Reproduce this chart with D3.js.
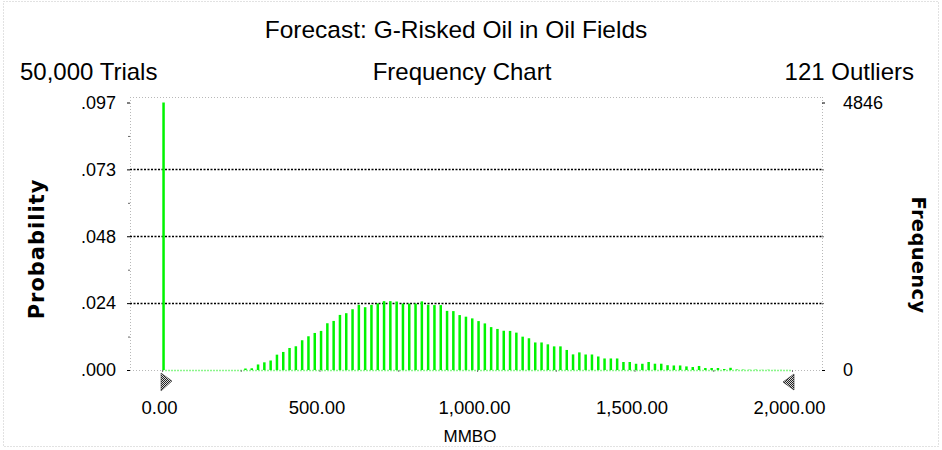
<!DOCTYPE html>
<html>
<head>
<meta charset="utf-8">
<script src="https://cdn.jsdelivr.net/npm/d3@7"></script>
<style>
  body { margin: 0; background: #fff; }
  svg { display: block; font-family: "Liberation Sans", Arial, sans-serif; }
</style>
</head>
<body>
<div id="chart"></div>
<script>
// forecast summary
const title = "Forecast: G-Risked Oil in Oil Fields";
const trialsLabel = "50,000 Trials";
const chartLabel = "Frequency Chart";
const outliersLabel = "121 Outliers";
const trials = 50000;

// bins of 20 MMBO from 0 to 2000, frequency counts
const binStarts = d3.range(0, 2000, 20);
const frequencies = [
  4846, 0, 0, 0, 0, 0, 0, 0, 0, 0,
  0, 0, 0, 27, 31, 100, 139, 172, 278, 327,
  399, 430, 539, 611, 671, 708, 847, 889, 998, 1029,
  1101, 1180, 1138, 1180, 1207, 1247, 1247, 1240, 1203, 1203,
  1203, 1243, 1183, 1176, 1176, 1071, 1067, 995, 966, 935,
  886, 844, 777, 744, 711, 708, 677, 604, 575, 499,
  499, 465, 428, 428, 363, 283, 319, 281, 281, 245,
  209, 209, 209, 145, 145, 113, 113, 145, 114, 114,
  87, 82, 82, 65, 54, 73, 36, 36, 36, 18,
  40, 9, 7, 5, 6, 3, 4, 2, 2, 1
];

// axes
const xTicks = [0, 500, 1000, 1500, 2000];
const xTickLabels = ["0.00", "500.00", "1,000.00", "1,500.00", "2,000.00"];
const xMinorTicks = [250, 750, 1250, 1750];
const maxFreq = 4846;
const probTicks = [0, 0.25, 0.5, 0.75, 1].map(f => f * maxFreq / trials);
const probTickLabels = [".000", ".024", ".048", ".073", ".097"];
const probMinorTicks = [0.125, 0.375, 0.625, 0.875].map(f => f * maxFreq / trials);
const freqTicks = [0, 4846];
const freqTickLabels = ["0", "4846"];
const xAxisTitle = "MMBO";
const leftAxisTitle = "Probability";
const rightAxisTitle = "Frequency";

const width = 942, height = 450;
const frame = {left: 130, right: 822, top: 97, bottom: 370};

const svg = d3.select("#chart").append("svg")
  .attr("width", width)
  .attr("height", height);

// outer dotted border
svg.append("rect")
  .attr("x", 3.5).attr("y", 1.5)
  .attr("width", 935).attr("height", 445)
  .attr("fill", "none")
  .attr("stroke", "#c4c4c4")
  .attr("stroke-dasharray", "1,2");

const x = d3.scaleLinear().domain([0, 2000]).range([162, 792]);
const yProb = d3.scaleLinear().domain([0, maxFreq / trials]).range([frame.bottom, 102.5]);
const yFreq = d3.scaleLinear().domain([0, maxFreq]).range([frame.bottom, 102.5]);

// headings
svg.append("text")
  .attr("x", 456).attr("y", 38)
  .attr("text-anchor", "middle")
  .style("font-size", "24.5px")
  .text(title);

const sub = svg.append("g").style("font-size", "24px");
sub.append("text").attr("x", 20).attr("y", 80).text(trialsLabel);
sub.append("text").attr("x", 462).attr("y", 80).attr("text-anchor", "middle").text(chartLabel);
sub.append("text").attr("x", 914).attr("y", 80).attr("text-anchor", "end").text(outliersLabel);

// plot frame (light dotted)
const frameLine = (x1, y1, x2, y2, color) => svg.append("line")
  .attr("x1", x1).attr("y1", y1).attr("x2", x2).attr("y2", y2)
  .attr("stroke", color)
  .attr("stroke-dasharray", "1,2");

frameLine(frame.left, frame.top + 0.5, frame.right, frame.top + 0.5, "#b8b8b8");
frameLine(frame.left + 0.5, frame.top, frame.left + 0.5, frame.bottom, "#b8b8b8");
frameLine(frame.right + 0.5, frame.top, frame.right + 0.5, frame.bottom, "#b8b8b8");
frameLine(frame.left, frame.bottom + 0.5, x(0), frame.bottom + 0.5, "#b8b8b8");
frameLine(x(2000), frame.bottom + 0.5, frame.right, frame.bottom + 0.5, "#b8b8b8");

// grid lines
svg.append("g")
  .selectAll("line")
  .data(probTicks.slice(1, 4))
  .join("line")
  .attr("x1", frame.left).attr("x2", frame.right)
  .attr("y1", d => Math.round(yProb(d)) + 0.5)
  .attr("y2", d => Math.round(yProb(d)) + 0.5)
  .attr("stroke", "#000")
  .attr("stroke-width", 1.4)
  .attr("stroke-dasharray", "2,1.5");

// zero baseline under the bins
svg.append("line")
  .attr("x1", x(0)).attr("x2", x(2000))
  .attr("y1", frame.bottom + 0.5).attr("y2", frame.bottom + 0.5)
  .attr("stroke", "#8cf58c")
  .attr("stroke-width", 1.5)
  .attr("stroke-dasharray", "2,1");

// bars
svg.append("g")
  .selectAll("rect")
  .data(binStarts)
  .join("rect")
  .attr("x", d => x(d) + 0.3)
  .attr("width", 2.5)
  .attr("y", (d, i) => yFreq(frequencies[i]))
  .attr("height", (d, i) => frame.bottom - yFreq(frequencies[i]))
  .attr("fill", "#00f400");

// left axis
const leftAxis = svg.append("g")
  .attr("transform", `translate(${frame.left},0)`)
  .call(d3.axisLeft(yProb)
    .tickValues(probTicks)
    .tickFormat((d, i) => probTickLabels[i])
    .tickSize(3)
    .tickPadding(11));
leftAxis.select(".domain").remove();
leftAxis.selectAll("text").style("font-size", "18px").style("font-family", "Liberation Sans, Arial, sans-serif").attr("fill", "#000");

const leftMinor = svg.append("g")
  .attr("transform", `translate(${frame.left},0)`)
  .call(d3.axisLeft(yProb).tickValues(probMinorTicks).tickFormat("").tickSize(2));
leftMinor.select(".domain").remove();
leftMinor.selectAll("line").attr("stroke", "#666");

// right axis
const rightAxis = svg.append("g")
  .attr("transform", `translate(${frame.right},0)`)
  .call(d3.axisRight(yFreq)
    .tickValues(freqTicks)
    .tickFormat((d, i) => freqTickLabels[i])
    .tickSize(3)
    .tickPadding(18));
rightAxis.select(".domain").remove();
rightAxis.selectAll("text").style("font-size", "18px").style("font-family", "Liberation Sans, Arial, sans-serif").attr("fill", "#000");

const rightMinor = svg.append("g")
  .attr("transform", `translate(${frame.right},0)`)
  .call(d3.axisRight(yFreq).tickValues([maxFreq / 4, maxFreq / 2, maxFreq * 3 / 4]).tickFormat("").tickSize(2));
rightMinor.select(".domain").remove();
rightMinor.selectAll("line").attr("stroke", "#666");

// bottom axis
const bottomAxis = svg.append("g")
  .attr("transform", `translate(0,${frame.bottom})`)
  .call(d3.axisBottom(x)
    .tickValues(xTicks)
    .tickFormat((d, i) => xTickLabels[i])
    .tickSize(2)
    .tickPadding(29));
bottomAxis.select(".domain").remove();
bottomAxis.selectAll("line").attr("stroke", "#777");
bottomAxis.selectAll("text")
  .style("font-size", "18.5px")
  .style("font-family", "Liberation Sans, Arial, sans-serif")
  .attr("fill", "#000")
  .attr("dx", -3);

const bottomMinor = svg.append("g")
  .attr("transform", `translate(0,${frame.bottom})`)
  .call(d3.axisBottom(x).tickValues(xMinorTicks).tickFormat("").tickSize(2));
bottomMinor.select(".domain").remove();
bottomMinor.selectAll("line").attr("stroke", "#777");

// axis titles
svg.append("text")
  .attr("x", 470).attr("y", 442)
  .attr("text-anchor", "middle")
  .style("font-size", "17px")
  .text(xAxisTitle);

svg.append("text")
  .attr("transform", "translate(44,249) rotate(-90)")
  .attr("text-anchor", "middle")
  .style("font-family", "DejaVu Sans, sans-serif")
  .style("font-weight", "bold")
  .style("font-size", "21px")
  .style("letter-spacing", "1px")
  .text(leftAxisTitle);

svg.append("text")
  .attr("transform", "translate(912,255) rotate(90)")
  .attr("text-anchor", "middle")
  .style("font-family", "DejaVu Sans, sans-serif")
  .style("font-weight", "bold")
  .style("font-size", "19.5px")
  .style("letter-spacing", "0.3px")
  .text(rightAxisTitle);

// range grabbers (checkered triangles)
const defs = svg.append("defs");
const pat = defs.append("pattern")
  .attr("id", "checker")
  .attr("width", 2).attr("height", 2)
  .attr("patternUnits", "userSpaceOnUse");
pat.append("rect").attr("width", 2).attr("height", 2).attr("fill", "#ddd");
pat.append("rect").attr("width", 1).attr("height", 1).attr("fill", "#222");
pat.append("rect").attr("x", 1).attr("y", 1).attr("width", 1).attr("height", 1).attr("fill", "#222");

const x0 = x(0), x1 = x(2000);
svg.append("path")
  .attr("d", `M${x0 - 1},373 L${x0 + 10},381 L${x0 - 1},391 Z`)
  .attr("fill", "url(#checker)")
  .attr("stroke", "#444")
  .attr("stroke-width", 0.6);
svg.append("path")
  .attr("d", `M${x1 + 2},374 L${x1 - 9},382 L${x1 + 2},390 Z`)
  .attr("fill", "url(#checker)")
  .attr("stroke", "#222")
  .attr("stroke-width", 0.6);
</script>
</body>
</html>
